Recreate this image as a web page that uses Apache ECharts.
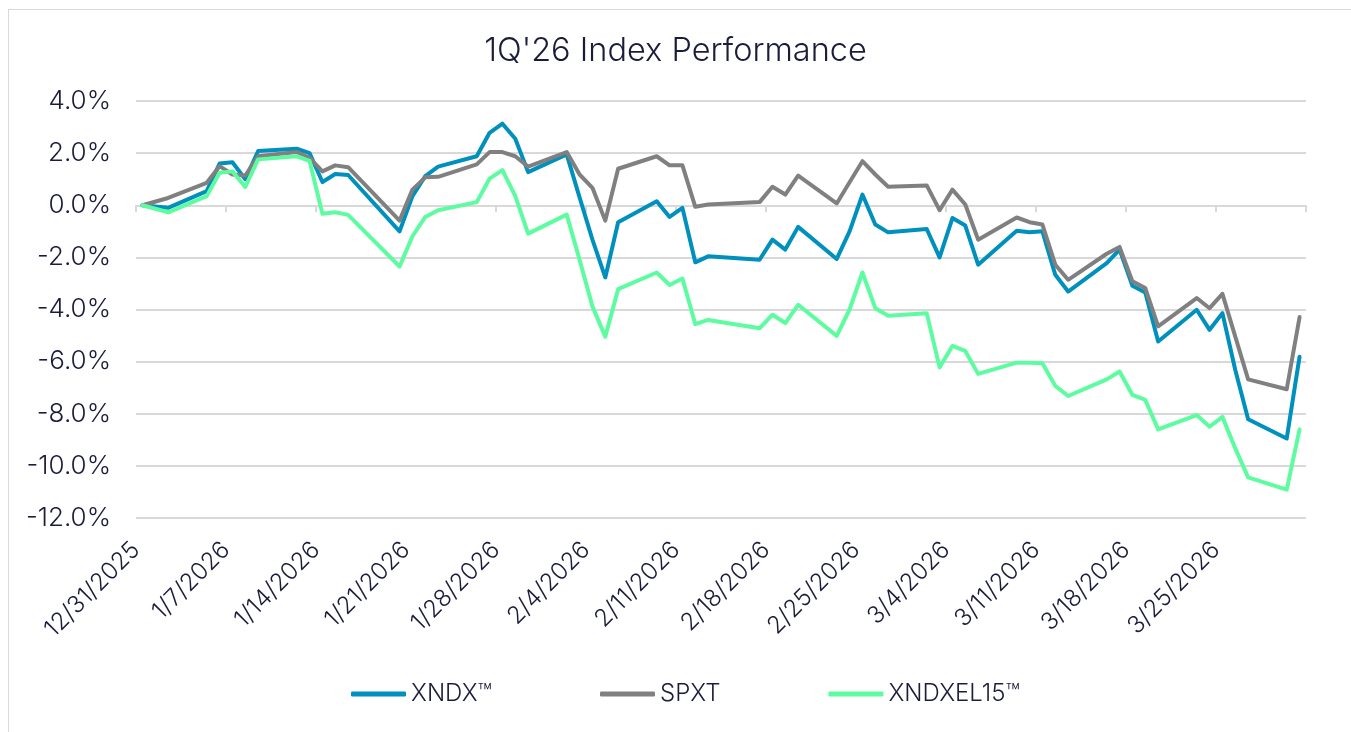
<!DOCTYPE html>
<html>
<head>
<meta charset="utf-8">
<script src="https://cdn.jsdelivr.net/npm/echarts@6/dist/echarts.min.js"></script>
<style>
html,body{margin:0;padding:0;background:#fff;}
#main{position:absolute;left:0;top:0;width:1351px;height:732px;}
#frame{position:absolute;left:8px;top:9px;width:1400px;height:800px;border:1px solid #d9d9d9;pointer-events:none;}
</style>
</head>
<body>
<div id="main"></div>
<div id="frame"></div>
<script>
var dates = ['2025-12-31','2026-01-02','2026-01-05','2026-01-06','2026-01-07','2026-01-08','2026-01-09',
'2026-01-12','2026-01-13','2026-01-14','2026-01-15','2026-01-16','2026-01-20','2026-01-21','2026-01-22','2026-01-23',
'2026-01-26','2026-01-27','2026-01-28','2026-01-29','2026-01-30','2026-02-02','2026-02-03','2026-02-04','2026-02-05','2026-02-06',
'2026-02-09','2026-02-10','2026-02-11','2026-02-12','2026-02-13','2026-02-17','2026-02-18','2026-02-19','2026-02-20',
'2026-02-23','2026-02-24','2026-02-25','2026-02-26','2026-02-27','2026-03-02','2026-03-03','2026-03-04','2026-03-05','2026-03-06',
'2026-03-09','2026-03-10','2026-03-11','2026-03-12','2026-03-13','2026-03-16','2026-03-17','2026-03-18','2026-03-19','2026-03-20',
'2026-03-23','2026-03-24','2026-03-25','2026-03-26','2026-03-27','2026-03-30','2026-03-31'];

var xndx = [0,-0.10,0.54,1.60,1.65,1.00,2.08,
2.17,2.00,0.89,1.20,1.16,-1.00,0.35,1.12,1.48,
1.88,2.78,3.13,2.55,1.27,1.95,0.30,-1.32,-2.77,-0.65,
0.15,-0.45,-0.10,-2.19,-1.96,-2.09,-1.32,-1.70,-0.83,
-2.06,-1.00,0.41,-0.74,-1.04,-0.91,-2.00,-0.49,-0.78,-2.28,
-0.98,-1.04,-1.00,-2.67,-3.31,-2.22,-1.70,-3.09,-3.35,-5.23,
-4.01,-4.78,-4.14,-6.32,-8.21,-8.95,-5.81];

var spxt = [0,0.28,0.86,1.50,1.18,1.14,1.88,
2.04,1.82,1.30,1.53,1.46,-0.59,0.60,1.07,1.09,
1.57,2.04,2.04,1.88,1.48,2.04,1.18,0.67,-0.59,1.40,
1.88,1.53,1.53,-0.06,0.03,0.12,0.71,0.41,1.14,
0.07,0.88,1.69,1.18,0.71,0.76,-0.19,0.60,0.03,-1.32,
-0.47,-0.65,-0.74,-2.28,-2.86,-1.86,-1.60,-2.92,-3.18,-4.65,
-3.56,-3.95,-3.40,-5.04,-6.68,-7.06,-4.29];

var xndxel15 = [0,-0.27,0.35,1.25,1.30,0.70,1.76,
1.88,1.70,-0.33,-0.27,-0.37,-2.35,-1.19,-0.45,-0.19,
0.12,1.02,1.35,0.35,-1.09,-0.36,-2.09,-3.88,-5.04,-3.22,
-2.58,-3.06,-2.81,-4.56,-4.40,-4.72,-4.20,-4.52,-3.82,
-5.01,-4.00,-2.58,-3.95,-4.24,-4.14,-6.22,-5.40,-5.59,-6.47,
-6.04,-6.04,-6.06,-6.93,-7.32,-6.68,-6.38,-7.28,-7.47,-8.60,
-8.05,-8.50,-8.12,-9.33,-10.44,-10.91,-8.60];

var seriesNames = ['XNDX\u2122','SPXT','XNDXEL15\u2122'];
var seriesColors = ['#0090bd','#808080','#5dfca0'];
var yTicks = {min:-12, max:4, step:2};
var dayCount = 91;
var tickStep = 7;

var DAY = 86400000;
var t0 = Date.UTC(2025,11,31);
function dayIndex(s){
  var p = s.split('-');
  return (Date.UTC(+p[0], +p[1]-1, +p[2]) - t0)/DAY + 0.5;
}
function fmtDay(v){
  var d = new Date(t0 + Math.round(v)*DAY);
  return (d.getUTCMonth()+1) + '/' + d.getUTCDate() + '/' + d.getUTCFullYear();
}
function pairs(vals){ return dates.map(function(s,i){ return [dayIndex(s), vals[i]]; }); }

var navy = '#1b1b3b';
var font = 'Inter';
var fw = 300;
var chart = echarts.init(document.getElementById('main'));
var lines = [xndx, spxt, xndxel15];
chart.setOption({
  animation:false,
  backgroundColor:'#fff',
  title:{text:"1Q'26 Index Performance", left:'center', top:30,
    textStyle:{fontFamily:font, fontSize:32.5, fontWeight:fw, color:navy}},
  legend:{data:seriesNames, left:346, top:677, itemWidth:55, itemHeight:5, itemGap:108,
    icon:'roundRect',
    textStyle:{fontFamily:font, fontSize:24, fontWeight:fw, color:navy}},
  grid:{left:136, right:45, top:101, bottom:214, containLabel:false},
  xAxis:[{
    type:'value', min:0, max:dayCount, interval:tickStep, position:'bottom',
    axisLine:{show:true, onZero:true, lineStyle:{color:'#d9d9d9', width:2}},
    axisTick:{show:true, length:7, lineStyle:{color:'#d9d9d9', width:2}},
    axisLabel:{show:false}, splitLine:{show:false}
  },{
    type:'value', min:0, max:dayCount, interval:tickStep, position:'bottom',
    axisLine:{show:false, onZero:false}, axisTick:{show:false}, splitLine:{show:false},
    axisLabel:{show:true, rotate:45, margin:28, showMaxLabel:false,
      fontFamily:font, fontSize:24, fontWeight:fw, color:navy,
      formatter:function(v){ return v>=dayCount ? '' : fmtDay(v); }}
  }],
  yAxis:{type:'value', min:yTicks.min, max:yTicks.max, interval:yTicks.step,
    axisLine:{show:false}, axisTick:{show:false},
    axisLabel:{fontFamily:font, fontSize:26, fontWeight:fw, color:navy, margin:25,
      formatter:function(v){ return v.toFixed(1)+'%'; }},
    splitLine:{lineStyle:{color:'#d9d9d9', width:2}}},
  series: lines.map(function(vals,i){
    return {name:seriesNames[i], type:'line', xAxisIndex:0, data:pairs(vals),
      showSymbol:false, symbol:'none', smooth:false,
      lineStyle:{color:seriesColors[i], width:4, join:'round', cap:'round'},
      itemStyle:{color:seriesColors[i]}};
  })
});
</script>
</body>
</html>
